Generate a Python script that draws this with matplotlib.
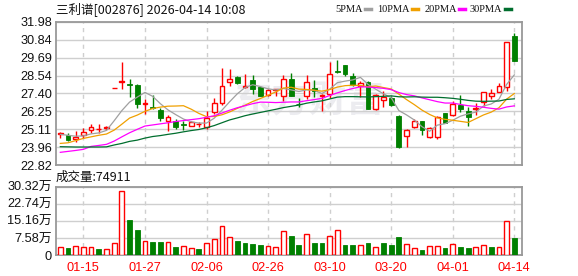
import numpy as np
import matplotlib
matplotlib.use('Agg')
import matplotlib.pyplot as plt
from matplotlib.lines import Line2D

plt.rcParams['font.family'] = ['Liberation Sans', 'Noto Sans CJK SC']

# trading days shown in the chart
dates = ['01-12', '01-13', '01-14', '01-15', '01-16', '01-19', '01-20', '01-21', '01-22', '01-23',
         '01-26', '01-27', '01-28', '01-29', '01-30', '02-02', '02-03', '02-04', '02-05', '02-06',
         '02-09', '02-10', '02-11', '02-12', '02-13', '02-24', '02-25', '02-26', '02-27', '03-02',
         '03-03', '03-04', '03-05', '03-06', '03-09', '03-10', '03-11', '03-12', '03-13', '03-16',
         '03-17', '03-18', '03-19', '03-20', '03-23', '03-24', '03-25', '03-26', '03-27', '03-30',
         '03-31', '04-01', '04-02', '04-03', '04-07', '04-08', '04-09', '04-10', '04-13', '04-14']
tick_dates = ['01-15', '01-27', '02-06', '02-26', '03-10', '03-20', '04-01', '04-14']

open_ = [24.78, 24.73, 24.50, 24.73, 25.07, 25.11, 25.18, 27.74, 28.12, 28.02,
         27.95, 26.72, 26.53, 26.32, 25.64, 25.62, 25.41, 25.30, 25.43, 25.22,
         26.21, 26.79, 28.12, 28.46, 27.82, 28.27, 27.78, 27.29, 27.61, 27.21,
         28.32, 26.74, 27.23, 27.74, 27.22, 27.36, 28.86, 29.20, 28.50, 27.87,
         28.13, 26.42, 26.96, 27.08, 25.97, 24.69, 25.27, 25.63, 24.59, 24.59,
         26.12, 26.02, 26.66, 26.29, 26.41, 26.83, 27.25, 27.51, 27.83, 31.07]
high = [24.96, 24.88, 24.98, 25.20, 25.45, 25.41, 25.32, 27.74, 29.39, 28.33,
        27.97, 27.04, 27.27, 26.47, 26.00, 25.73, 25.62, 25.66, 25.60, 26.30,
        27.10, 29.01, 28.95, 28.52, 28.66, 28.59, 27.84, 27.68, 27.70, 28.55,
        28.69, 27.10, 28.55, 28.23, 27.35, 29.42, 29.55, 29.23, 28.70, 28.17,
        28.16, 27.36, 27.55, 27.23, 26.02, 25.10, 25.74, 25.65, 25.27, 25.95,
        26.14, 26.91, 27.30, 26.51, 26.76, 27.51, 27.68, 28.08, 30.66, 31.24]
low = [24.55, 24.33, 24.28, 24.54, 24.88, 24.88, 25.03, 27.74, 27.68, 27.15,
       26.47, 26.11, 26.40, 25.62, 24.98, 25.13, 25.03, 25.30, 25.26, 25.15,
       26.11, 26.68, 27.89, 27.99, 27.72, 27.38, 27.21, 27.25, 27.25, 26.89,
       27.21, 26.55, 27.02, 27.17, 26.30, 27.10, 28.72, 28.53, 27.86, 27.17,
       26.38, 26.36, 26.55, 26.58, 23.93, 23.99, 25.21, 24.74, 24.53, 24.46,
       25.49, 25.95, 26.23, 25.31, 26.02, 26.59, 27.02, 27.49, 27.57, 29.49]
close = [24.84, 24.41, 24.62, 24.94, 25.22, 25.15, 25.22, 27.74, 28.19, 27.91,
         26.72, 26.76, 26.49, 25.83, 25.86, 25.24, 25.35, 25.60, 25.47, 25.85,
         26.79, 27.87, 28.31, 28.04, 27.86, 27.68, 27.25, 27.63, 27.66, 28.31,
         27.23, 26.70, 28.13, 27.53, 27.27, 28.66, 28.78, 28.66, 27.91, 28.06,
         26.42, 27.28, 27.17, 26.64, 23.99, 25.06, 25.63, 25.06, 25.17, 25.91,
         25.52, 26.72, 26.38, 25.91, 26.46, 27.47, 27.40, 27.87, 30.66, 29.49]

ma5 = [24.78, 24.72, 24.66, 24.68, 24.81, 24.87, 25.03, 25.65, 26.30, 26.84,
       27.16, 27.46, 27.21, 26.74, 26.34, 26.04, 25.76, 25.58, 25.50, 25.50,
       25.81, 26.32, 26.86, 27.37, 27.77, 27.95, 27.83, 27.69, 27.62, 27.71,
       27.62, 27.52, 27.62, 27.59, 27.39, 27.67, 28.08, 28.18, 28.26, 28.42,
       27.97, 27.66, 27.37, 27.12, 26.30, 26.02, 25.70, 25.27, 24.98, 25.37,
       25.46, 25.68, 25.94, 26.09, 26.20, 26.59, 26.72, 27.02, 27.97, 28.58]
ma10 = [24.20, 24.24, 24.38, 24.52, 24.62, 24.72, 24.80, 25.05, 25.43, 25.82,
        26.01, 26.25, 26.43, 26.52, 26.58, 26.59, 26.61, 26.39, 26.12, 25.91,
        25.92, 26.03, 26.21, 26.44, 26.64, 26.88, 27.07, 27.28, 27.49, 27.74,
        27.79, 27.67, 27.65, 27.60, 27.54, 27.64, 27.80, 27.89, 27.92, 27.90,
        27.82, 27.87, 27.77, 27.68, 27.35, 27.00, 26.68, 26.33, 26.05, 25.83,
        25.74, 25.68, 25.61, 25.54, 25.78, 26.02, 26.20, 26.48, 27.03, 27.39]
ma20 = [23.63, 23.69, 23.75, 23.82, 24.01, 24.07, 24.14, 24.35, 24.62, 24.88,
        25.10, 25.31, 25.38, 25.45, 25.52, 25.60, 25.66, 25.72, 25.78, 25.87,
        25.97, 26.14, 26.32, 26.48, 26.61, 26.74, 26.84, 26.83, 26.81, 26.83,
        26.85, 26.85, 26.93, 27.00, 27.08, 27.26, 27.43, 27.58, 27.71, 27.82,
        27.80, 27.77, 27.72, 27.64, 27.45, 27.32, 27.24, 27.11, 26.99, 26.87,
        26.78, 26.78, 26.69, 26.61, 26.57, 26.51, 26.44, 26.39, 26.53, 26.60]
ma30 = [23.99, 23.98, 23.97, 23.97, 23.97, 23.97, 23.98, 24.10, 24.20, 24.33,
        24.41, 24.54, 24.64, 24.70, 24.78, 24.85, 24.94, 25.02, 25.09, 25.20,
        25.34, 25.52, 25.70, 25.83, 25.97, 26.08, 26.18, 26.28, 26.38, 26.49,
        26.57, 26.65, 26.77, 26.85, 26.92, 27.04, 27.16, 27.19, 27.19, 27.18,
        27.17, 27.19, 27.21, 27.24, 27.18, 27.17, 27.18, 27.16, 27.15, 27.15,
        27.12, 27.08, 27.02, 26.95, 26.90, 26.89, 26.90, 26.91, 27.01, 27.05]

# volume in 万
volume = [3.40, 3.11, 3.85, 3.40, 3.40, 2.66, 2.51, 5.18, 28.25, 15.53,
          11.09, 6.06, 5.77, 5.77, 5.77, 3.55, 3.85, 2.96, 2.66, 5.18,
          6.95, 12.72, 7.84, 6.21, 5.32, 4.88, 4.44, 3.85, 3.55, 10.50,
          8.43, 4.44, 9.17, 5.32, 5.32, 8.28, 10.94, 4.44, 4.44, 4.29,
          5.32, 3.40, 5.32, 4.44, 7.99, 4.73, 2.96, 2.22, 3.85, 3.85,
          3.11, 4.73, 3.55, 3.11, 3.40, 4.29, 3.55, 3.40, 14.94, 7.49]

price_ticks = [22.82, 23.96, 25.11, 26.25, 27.40, 28.54, 29.69, 30.84, 31.98]
vol_ticks = [0, 7.58, 15.16, 22.74, 30.32]

RED = '#ff0000'
GREEN = '#008000'
GRID = '#cfcfcf'
SPINE = '#999999'

o = np.array(open_)
h = np.array(high)
l = np.array(low)
c = np.array(close)
v = np.array(volume)
x = np.arange(len(dates))

up = c >= o
prev = np.concatenate([[o[0]], c[:-1]])
vol_up = c >= prev

W, H = 578, 276
fig = plt.figure(figsize=(W / 100, H / 100), dpi=100)
ax_p = fig.add_axes([56 / W, 1 - 165 / H, 466 / W, 143.3 / H])
ax_v = fig.add_axes([56 / W, 1 - 255 / H, 466 / W, 68.3 / H])

# watermark
ax_p.text(0.545, 0.45, '东方财富', transform=ax_p.transAxes, fontsize=27,
          fontweight='bold', color='#ececf0', ha='center', va='center',
          family=['Noto Sans CJK SC'], zorder=0)

# candles
bw = 0.62
bot = np.minimum(o, c)
bh = np.maximum(np.abs(c - o), 0.02)
cols = np.where(up, RED, GREEN)
ax_p.vlines(x, l, h, colors=cols, linewidth=1, zorder=3)
ax_p.bar(x[up], bh[up], bottom=bot[up], width=bw, facecolor='white',
         edgecolor=RED, linewidth=1, zorder=4)
ax_p.bar(x[~up], bh[~up], bottom=bot[~up], width=bw, facecolor=GREEN,
         edgecolor=GREEN, linewidth=0.6, zorder=4)

ma_cols = ['#a0a0a0', '#f0a000', '#ff00ff', '#006e2e']
ma_names = ['5PMA', '10PMA', '20PMA', '30PMA']
for series, col in zip([ma5, ma10, ma20, ma30], ma_cols):
    ax_p.plot(x, series, color=col, linewidth=0.9, zorder=5)

ax_p.set_xlim(-0.56, 60.0)
ax_p.set_ylim(22.82, 31.98)
ax_p.set_yticks(price_ticks)
ax_p.set_yticklabels(['%.2f' % t for t in price_ticks])

# volume bars
ax_v.bar(x[vol_up], v[vol_up], width=bw, facecolor='white', edgecolor=RED,
         linewidth=1, zorder=4)
ax_v.bar(x[~vol_up], v[~vol_up], width=bw, facecolor=GREEN, edgecolor=GREEN,
         linewidth=0.6, zorder=4)
ax_v.set_xlim(-0.56, 60.0)
ax_v.set_ylim(0, 30.32)
ax_v.set_yticks(vol_ticks)
ax_v.set_yticklabels(['0'] + ['%.2f万' % t for t in vol_ticks[1:]])

tick_idx = [dates.index(d) for d in tick_dates]
for ax in (ax_p, ax_v):
    ax.set_xticks(tick_idx)
    ax.grid(axis='y', color=GRID, linewidth=1, zorder=0)
    ax.grid(axis='x', color=GRID, linewidth=1, linestyle=(0, (3, 3)), zorder=0)
    ax.set_axisbelow(True)
    for s in ax.spines.values():
        s.set_color(SPINE)
        s.set_linewidth(1.3)
    ax.tick_params(length=0, pad=3, labelsize=9.2, labelcolor='#111111')

ax_p.set_xticklabels([])
ax_v.set_xticklabels(tick_dates, color=RED)
ax_v.tick_params(axis='x', pad=5)

# legend row above the price panel: label then a short colour dash
dash_px = [365.0, 412.0, 459.2, 504.7]
ly = 1 - 9.3 / H
for name, col, dx in zip(ma_names, ma_cols, dash_px):
    fig.text((dx - 2.5) / W, ly, name, fontsize=7.5, family='Liberation Serif',
             va='center', ha='right', color='#111111')
    fig.add_artist(Line2D([dx / W, (dx + 6) / W], [ly, ly], color=col,
                          linewidth=2.5, transform=fig.transFigure))

fig.text(56 / W, 1 - 9 / H, '三利谱[002876] 2026-04-14 10:08', fontsize=9,
         family=['Noto Sans CJK SC'], va='center', ha='left', color='#111111')
fig.text(56 / W, 1 - 177 / H, '成交量:74911', fontsize=9,
         family=['Noto Sans CJK SC'], va='center', ha='left', color='#111111')

fig.savefig('out.png', dpi=100)
